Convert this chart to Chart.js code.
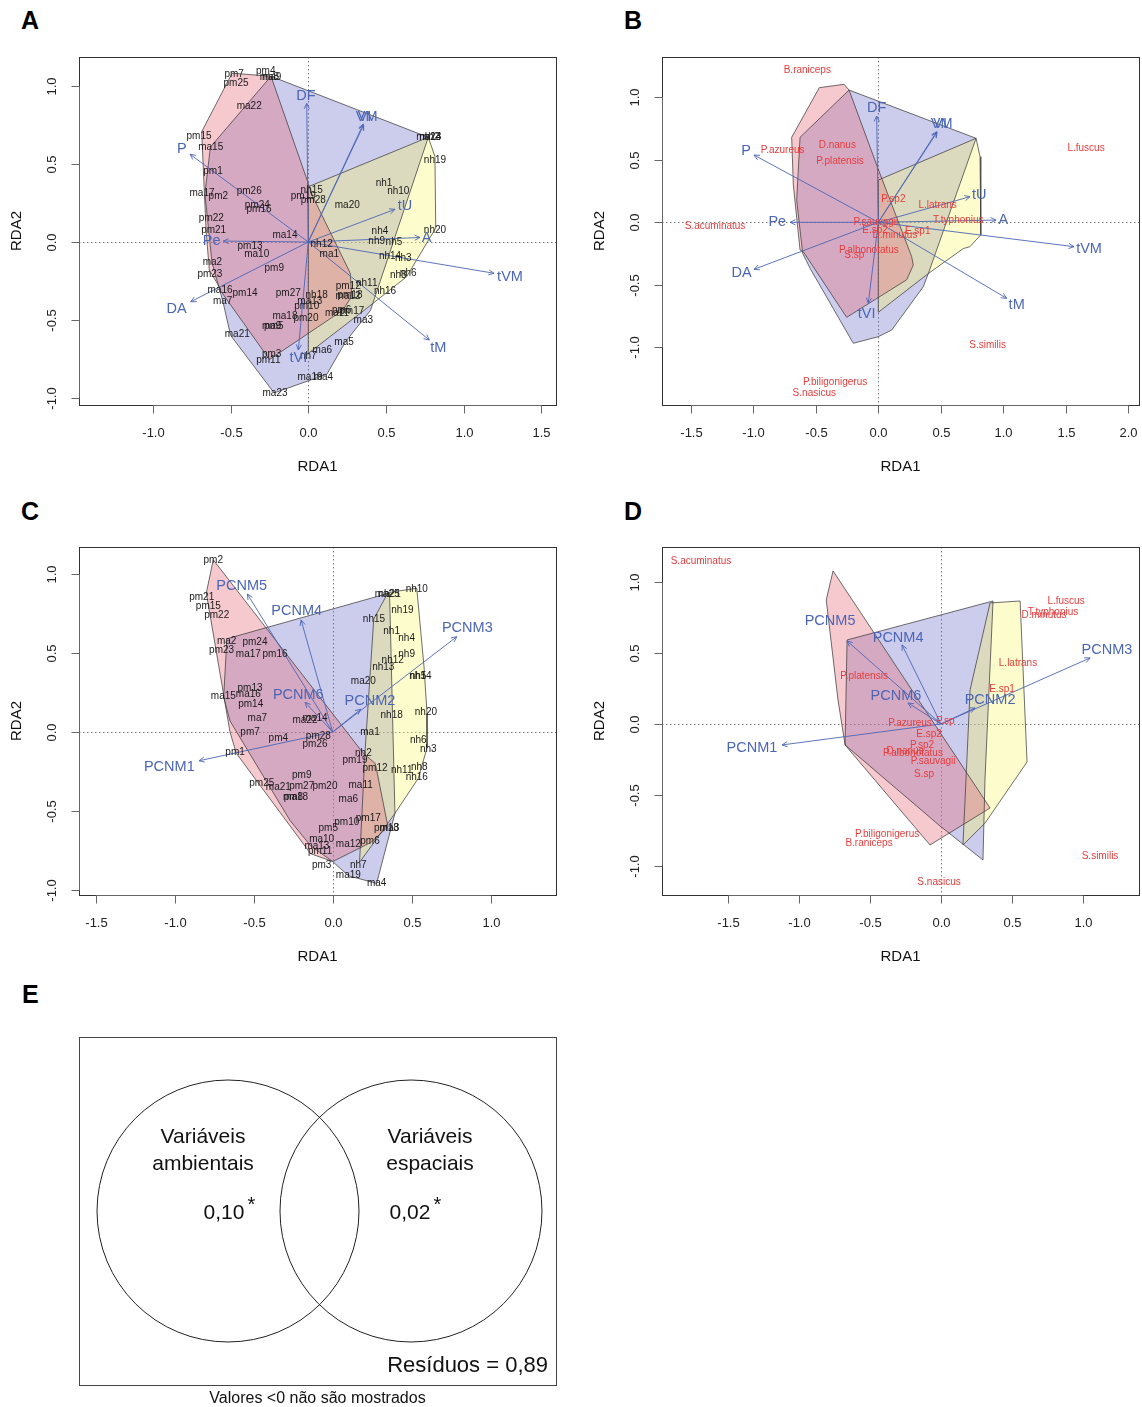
<!DOCTYPE html>
<html><head><meta charset="utf-8">
<script src="https://cdn.jsdelivr.net/npm/chart.js@4.4.0/dist/chart.umd.min.js"></script>
<style>
body{margin:0;background:#fff;width:1142px;height:1407px;position:relative;overflow:hidden;font-family:"Liberation Sans",Arial,sans-serif}
canvas{position:absolute}
.lt{position:absolute;font:bold 25px "Liberation Sans",Arial,sans-serif;line-height:25px;color:#000}
</style></head><body>
<div class="lt" style="left:21px;top:8px">A</div>
<div class="lt" style="left:624px;top:8px">B</div>
<div class="lt" style="left:21px;top:499px">C</div>
<div class="lt" style="left:624px;top:499px">D</div>
<div class="lt" style="left:22px;top:982px">E</div>
<script>
// ---------------- DATA ----------------
// Panel A : sites (environmental RDA)
const sitesA = [
['pm7',-0.477,1.08],['pm4',-0.274,1.10],['ma8',-0.25,1.062],['ma9',-0.236,1.062],['pm25',-0.465,1.02],
['ma22',-0.38,0.874],['pm15',-0.703,0.681],['ma15',-0.628,0.606],['pm1',-0.613,0.452],['ma17',-0.684,0.313],
['pm2',-0.579,0.291],['pm26',-0.38,0.326],['pm24',-0.328,0.238],['pm16',-0.317,0.21],['pm22',-0.624,0.152],
['pm21',-0.609,0.077],['ma14',-0.15,0.045],['pm13',-0.375,-0.03],['ma10',-0.332,-0.077],['ma2',-0.617,-0.127],
['pm23',-0.633,-0.206],['pm9',-0.219,-0.169],['ma16',-0.568,-0.308],['pm14',-0.407,-0.33],['ma7',-0.551,-0.379],
['ma21',-0.457,-0.591],['pm5',-0.222,-0.54],['ma9',-0.236,-0.54],['pm3',-0.236,-0.72],['pm11',-0.257,-0.758],
['ma23',-0.214,-0.972],['pm27',-0.129,-0.33],['nh18',0.054,-0.34],['ma13',0.01,-0.384],['pm10',-0.01,-0.416],
['ma18',-0.15,-0.476],['pm20',-0.015,-0.49],['ma1',0.135,-0.077],['nh12',0.086,-0.013],['pm12',0.257,-0.287],
['nh11',0.376,-0.265],['pm18',0.268,-0.345],['ma12',0.256,-0.35],['pm6',0.215,-0.437],['ma11',0.185,-0.456],
['pm17',0.28,-0.448],['ma3',0.354,-0.506],['ma5',0.23,-0.647],['ma6',0.09,-0.694],['nh7',0.0,-0.733],
['ma19',0.011,-0.872],['ma4',0.097,-0.872],['nh16',0.494,-0.315],['nh8',0.579,-0.212],['nh6',0.643,-0.201],
['nh14',0.526,-0.09],['nh3',0.611,-0.105],['nh9',0.44,0.008],['nh5',0.551,-0.004],['nh4',0.461,0.071],
['nh20',0.815,0.077],['ma20',0.251,0.238],['nh1',0.487,0.377],['nh10',0.579,0.323],['nh15',0.022,0.334],
['pm19',-0.032,0.296],['pm28',0.032,0.27],['nh19',0.815,0.527],['ma24',0.775,0.673],['nh2',0.79,0.673],['nh13',0.785,0.673]
];
const envNames = ['DF','VM','VI','P','Pe','DA','tVI','tM','tVM','A','tU'];
const envTipsA = [[-0.01,0.891],[0.354,0.758],[0.356,0.752],[-0.761,0.564],[-0.547,0.006],[-0.757,-0.384],[-0.064,-0.694],[0.779,-0.63],[1.195,-0.201],[0.719,0.029],[0.558,0.21]];
const envLabA  = [[-0.015,0.938],[0.376,0.805],[0.362,0.805],[-0.813,0.598],[-0.622,0.006],[-0.847,-0.433],[-0.064,-0.747],[0.837,-0.683],[1.298,-0.223],[0.762,0.028],[0.622,0.231]];
const hullPmA = [[-0.49,1.085],[-0.24,1.065],[0.03,0.29],[0.27,-0.2],[0.28,-0.35],[0.22,-0.44],[-0.25,-0.755],[-0.56,-0.32],[-0.58,-0.276],[-0.637,-0.18],[-0.658,0.077],[-0.686,0.709]];
const hullMaA = [[-0.24,1.065],[0.772,0.673],[0.40,-0.44],[0.24,-0.64],[0.12,-0.85],[-0.22,-0.97],[-0.5,-0.6],[-0.55,-0.38],[-0.57,-0.31],[-0.62,-0.13],[-0.665,0.31],[-0.63,0.61]];
const hullNhA = [[0.0,0.355],[0.772,0.673],[0.815,0.55],[0.82,0.09],[0.633,-0.223],[0.376,-0.426],[0.0,-0.716]];
const xTicksA = [-1.0,-0.5,0.0,0.5,1.0,1.5];
const yTicksA = [-1.0,-0.5,0.0,0.5,1.0];

// Panel B : species (environmental RDA)
const speciesB = [
['B.raniceps',-0.568,1.218],['P.azureus',-0.765,0.578],['D.nanus',-0.328,0.618],['P.platensis',-0.306,0.49],
['S.acuminatus',-1.306,-0.03],['P.sauvagii',-0.02,0.003],['P.sp2',0.12,0.186],['L.latrans',0.475,0.133],
['T.typhonius',0.64,0.013],['E.sp1',0.315,-0.075],['D.minutus',0.133,-0.1],['E.sp2',-0.026,-0.062],
['P.albonotatus',-0.075,-0.222],['S.sp',-0.192,-0.262],['L.fuscus',1.662,0.592],['S.similis',0.875,-0.982],
['P.biligonigerus',-0.346,-1.283],['S.nasicus',-0.512,-1.368]
];
const envTipsB = [[-0.013,0.85],[0.467,0.725],[0.47,0.72],[-0.994,0.538],[-0.706,0.0],[-0.994,-0.376],[-0.08,-0.648],[1.027,-0.608],[1.566,-0.195],[0.942,0.018],[0.734,0.205]];
const envLabB  = [[-0.013,0.912],[0.507,0.786],[0.495,0.786],[-1.058,0.573],[-0.808,0.0],[-1.093,-0.408],[-0.093,-0.734],[1.107,-0.662],[1.686,-0.214],[1.0,0.018],[0.808,0.218]];
const hullPmB = [[-0.472,1.077],[-0.274,1.104],[-0.234,1.058],[-0.008,0.445],[0.267,-0.275],[0.28,-0.342],[0.227,-0.46],[-0.253,-0.76],[-0.6,-0.235],[-0.626,-0.222],[-0.68,0.3],[-0.693,0.68]];
const hullMaB = [[-0.234,1.058],[0.782,0.672],[0.40,-0.41],[0.36,-0.515],[0.107,-0.862],[0.0,-0.915],[-0.2,-0.968],[-0.546,-0.368],[-0.605,-0.248],[-0.653,0.178],[-0.626,0.68]];
const hullNhB = [[0.0,0.338],[0.782,0.672],[0.814,0.525],[0.82,-0.1],[0.733,-0.195],[0.68,-0.21],[0.40,-0.41],[0.0,-0.72]];
const xTicksB = [-1.5,-1.0,-0.5,0.0,0.5,1.0,1.5,2.0];
const yTicksB = [-1.0,-0.5,0.0,0.5,1.0];

// Panel C : sites (spatial RDA)
const sitesC = [
['pm2',-0.756,1.089],['pm21',-0.829,0.853],['pm15',-0.787,0.793],['pm22',-0.734,0.738],['ma2',-0.671,0.576],
['pm23',-0.703,0.519],['pm24',-0.492,0.565],['ma17',-0.534,0.492],['pm16',-0.365,0.494],['pm13',-0.523,0.28],
['ma16',-0.534,0.24],['ma15',-0.692,0.224],['pm14',-0.519,0.175],['ma7',-0.477,0.087],['pm7',-0.523,0.0],
['pm4',-0.344,-0.04],['pm1',-0.618,-0.125],['pm25',-0.449,-0.325],['pm26',-0.112,-0.076],['pm28',-0.091,-0.03],
['ma22',-0.175,0.076],['ma14',-0.112,0.087],['ma1',0.236,0.0],['ma20',0.194,0.323],['nh18',0.373,0.108],
['nh20',0.59,0.128],['nh13',0.32,0.407],['nh12',0.38,0.451],['nh9',0.468,0.494],['nh1',0.373,0.635],
['nh4',0.468,0.593],['nh15',0.261,0.715],['nh19',0.441,0.772],['nh10',0.532,0.905],['ma25',0.345,0.873],
['nh21',0.36,0.873],['nh5',0.54,0.354],['nh14',0.555,0.354],['nh6',0.542,-0.051],['nh3',0.605,-0.11],
['nh2',0.194,-0.135],['pm19',0.141,-0.177],['pm12',0.268,-0.23],['nh11',0.437,-0.24],['nh8',0.548,-0.226],
['nh16',0.532,-0.287],['pm9',-0.196,-0.272],['ma21',-0.344,-0.352],['pm27',-0.196,-0.346],['pm20',-0.049,-0.346],
['pm8',-0.249,-0.41],['ma18',-0.235,-0.41],['ma11',0.177,-0.34],['ma6',0.099,-0.424],['pm17',0.225,-0.546],
['pm10',0.089,-0.568],['pm5',-0.028,-0.61],['pm18',0.34,-0.606],['ma3',0.36,-0.606],['pm6',0.236,-0.694],
['ma12',0.099,-0.711],['ma10',-0.07,-0.677],['ma13',-0.1,-0.72],['pm11',-0.08,-0.753],['pm3',-0.07,-0.846],
['nh7',0.162,-0.846],['ma19',0.099,-0.909],['ma4',0.278,-0.958]
];
const pcnmNames = ['PCNM5','PCNM4','PCNM3','PCNM2','PCNM6','PCNM1'];
const pcnmTipsC = [[-0.54,0.873],[-0.2,0.709],[0.785,0.603],[0.177,0.144],[-0.175,0.188],[-0.846,-0.182]];
const pcnmLabC  = [[-0.576,0.924],[-0.228,0.766],[0.852,0.66],[0.236,0.196],[-0.218,0.234],[-1.034,-0.223]];
const hullPmC = [[-0.756,1.09],[0.19,-0.13],[0.27,-0.2],[0.35,-0.6],[0.24,-0.7],[0.0,-0.82],[-0.14,-0.77],[-0.61,-0.135],[-0.65,0.0],[-0.8,0.88]];
const hullMaC = [[0.36,0.88],[0.394,-0.515],[0.278,-0.958],[0.1,-0.91],[0.0,-0.82],[-0.14,-0.72],[-0.27,-0.56],[-0.65,0.07],[-0.69,0.22],[-0.67,0.59]];
const hullNhC = [[0.35,0.882],[0.532,0.91],[0.578,0.413],[0.597,0.118],[0.597,-0.1],[0.542,-0.293],[0.394,-0.515],[0.17,-0.825],[0.204,-0.135],[0.26,0.715]];
const xTicksC = [-1.5,-1.0,-0.5,0.0,0.5,1.0];
const yTicksC = [-1.0,-0.5,0.0,0.5,1.0];

// Panel D : species (spatial RDA)
const speciesD = [
['S.acuminatus',-1.694,1.15],['L.fuscus',0.882,0.868],['T.typhonius',0.79,0.79],['D.minutus',0.727,0.769],
['L.latrans',0.543,0.43],['P.platensis',-0.543,0.339],['E.sp1',0.43,0.247],['P.azureus',-0.219,0.007],
['P.sp',0.03,0.02],['E.sp2',-0.085,-0.071],['P.sp2',-0.134,-0.148],['D.nanus',-0.254,-0.191],
['P.albonotatus',-0.198,-0.205],['P.sauvagii',-0.056,-0.261],['S.sp',-0.12,-0.353],['P.biligonigerus',-0.381,-0.776],
['B.raniceps',-0.508,-0.84],['S.nasicus',-0.014,-1.115],['S.similis',1.122,-0.932]
];
const pcnmTipsD = [[-0.663,0.586],[-0.275,0.558],[1.052,0.466],[0.24,0.113],[-0.233,0.148],[-1.122,-0.148]];
const pcnmLabD  = [[-0.783,0.727],[-0.303,0.607],[1.171,0.522],[0.346,0.169],[-0.318,0.198],[-1.334,-0.169]];
const hullPmD = [[-0.762,1.08],[-0.81,0.875],[-0.727,0.169],[-0.677,-0.148],[-0.078,-0.854],[0.346,-0.593]];
const hullMaD = [[-0.663,0.593],[0.367,0.868],[0.31,-0.395],[0.296,-0.96],[-0.007,-0.72],[-0.677,-0.148]];
const hullNhD = [[0.346,0.854],[0.558,0.868],[0.607,-0.268],[0.31,-0.7],[0.155,-0.854],[0.205,0.24]];
const xTicksD = [-1.5,-1.0,-0.5,0.0,0.5,1.0];
const yTicksD = [-1.0,-0.5,0.0,0.5,1.0];

// Panel E : variation partitioning
const vennNames = [['Variáveis','ambientais'],['Variáveis','espaciais']];
const vennValues = [0.10, 0.02];
const vennSignif = ['*','*'];
const residualValue = 0.89;

// ---------------- RENDERING ----------------
const FONT = '"Liberation Sans", Arial, Helvetica, sans-serif';
const COL_PM = 'rgba(232,112,128,0.38)';
const COL_MA = 'rgba(110,110,200,0.35)';
const COL_NH = 'rgba(250,245,110,0.35)';
const BLUE = '#4b66b5';
const RED = '#e63c3c';

function P(chart,p){return [chart.scales.x.getPixelForValue(p[0]), chart.scales.y.getPixelForValue(p[1])];}
function fmt(v){return v.toFixed(1);}

function buildPanel(o){
  const cv=document.createElement('canvas');
  const [rx,ry,rw,rh]=o.rect;
  cv.width=rw; cv.height=rh;
  cv.style.left=rx+'px'; cv.style.top=ry+'px'; cv.style.width=rw+'px'; cv.style.height=rh+'px';
  document.body.appendChild(cv);
  const b=o.box;
  const pad={left:b[0]-rx, top:b[1]-ry, right:rx+rw-b[2], bottom:ry+rh-b[3]};
  const datasets=[];
  o.hulls.forEach(h=>{
    datasets.push({data:h.pts.concat([h.pts[0]]).map(p=>({x:p[0],y:p[1]})),showLine:true,
      borderColor:'rgba(55,55,55,0.9)',borderWidth:0.8,pointRadius:0,fill:false,order:3});
  });
  o.arrows.tips.forEach(t=>{
    datasets.push({data:[{x:0,y:0},{x:t[0],y:t[1]}],showLine:true,borderColor:'rgba(75,102,181,0.9)',
      borderWidth:1,pointRadius:0,fill:false,order:2});
  });
  datasets.push({data:o.labels.items.map(s=>({x:s[1],y:s[2]})),pointRadius:0,order:1});

  const plugin={
    id:'rdaDecor',
    beforeDatasetsDraw(chart){
      const ctx=chart.ctx,a=chart.chartArea;
      ctx.save();
      ctx.setLineDash([1.5,2.5]); ctx.strokeStyle='#777'; ctx.lineWidth=1;
      const z=P(chart,[0,0]);
      ctx.beginPath();
      ctx.moveTo(a.left,Math.round(z[1])+0.5); ctx.lineTo(a.right,Math.round(z[1])+0.5);
      ctx.moveTo(Math.round(z[0])+0.5,a.top); ctx.lineTo(Math.round(z[0])+0.5,a.bottom);
      ctx.stroke(); ctx.setLineDash([]);
      o.hulls.forEach(h=>{
        ctx.beginPath();
        h.pts.forEach((p,i)=>{const q=P(chart,p); if(i===0)ctx.moveTo(q[0],q[1]); else ctx.lineTo(q[0],q[1]);});
        ctx.closePath(); ctx.fillStyle=h.color; ctx.fill();
      });
      ctx.restore();
    },
    afterDatasetsDraw(chart){
      const ctx=chart.ctx;
      ctx.save();
      ctx.font=o.labels.size+'px '+FONT; ctx.fillStyle=o.labels.color;
      ctx.textAlign='center'; ctx.textBaseline='middle';
      o.labels.items.forEach(s=>{const q=P(chart,[s[1],s[2]]); ctx.fillText(s[0],q[0],q[1]);});
      ctx.strokeStyle='rgba(75,102,181,0.9)'; ctx.lineWidth=1;
      const z=P(chart,[0,0]);
      o.arrows.tips.forEach(t=>{
        const q=P(chart,t); const ang=Math.atan2(q[1]-z[1],q[0]-z[0]); const L=6,w=Math.PI/7;
        ctx.beginPath();
        ctx.moveTo(q[0]-L*Math.cos(ang-w),q[1]-L*Math.sin(ang-w)); ctx.lineTo(q[0],q[1]);
        ctx.lineTo(q[0]-L*Math.cos(ang+w),q[1]-L*Math.sin(ang+w)); ctx.stroke();
      });
      ctx.font='14.5px '+FONT; ctx.fillStyle=BLUE;
      o.arrows.labs.forEach((l,i)=>{const q=P(chart,l); ctx.fillText(o.arrows.names[i],q[0],q[1]);});
      ctx.restore();
    },
    afterDraw(chart){
      const ctx=chart.ctx,a=chart.chartArea,xs=chart.scales.x,ys=chart.scales.y;
      ctx.save();
      ctx.strokeStyle='#333'; ctx.lineWidth=1;
      ctx.strokeRect(Math.round(a.left)+0.5,Math.round(a.top)+0.5,Math.round(a.right-a.left),Math.round(a.bottom-a.top));
      ctx.strokeStyle='#666';
      ctx.fillStyle='#222'; ctx.font='13px '+FONT; ctx.textAlign='center'; ctx.textBaseline='middle';
      const yb=Math.round(a.bottom)+0.5;
      const x1=xs.getPixelForValue(o.xTicks[0]), x2=xs.getPixelForValue(o.xTicks[o.xTicks.length-1]);
      ctx.beginPath(); ctx.moveTo(x1,yb); ctx.lineTo(x2,yb); ctx.stroke();
      o.xTicks.forEach(v=>{
        const x=Math.round(xs.getPixelForValue(v))+0.5;
        ctx.beginPath(); ctx.moveTo(x,yb); ctx.lineTo(x,yb+8); ctx.stroke();
        ctx.fillText(fmt(v),x,a.bottom+28);
      });
      const xl=Math.round(a.left)+0.5;
      const y1=ys.getPixelForValue(o.yTicks[0]), y2=ys.getPixelForValue(o.yTicks[o.yTicks.length-1]);
      ctx.beginPath(); ctx.moveTo(xl,y1); ctx.lineTo(xl,y2); ctx.stroke();
      o.yTicks.forEach(v=>{
        const y=Math.round(ys.getPixelForValue(v))+0.5;
        ctx.beginPath(); ctx.moveTo(xl,y); ctx.lineTo(xl-8,y); ctx.stroke();
        ctx.save(); ctx.translate(a.left-27,y); ctx.rotate(-Math.PI/2); ctx.fillText(fmt(v),0,0); ctx.restore();
      });
      ctx.font='15px '+FONT; ctx.fillStyle='#111';
      ctx.fillText('RDA1',(a.left+a.right)/2,a.bottom+62);
      ctx.save(); ctx.translate(a.left-62,(a.top+a.bottom)/2); ctx.rotate(-Math.PI/2); ctx.fillText('RDA2',0,0); ctx.restore();
      ctx.restore();
    }
  };
  new Chart(cv,{type:'scatter',data:{datasets},plugins:[plugin],
    options:{responsive:false,animation:false,events:[],layout:{padding:pad,autoPadding:false},
      plugins:{legend:{display:false},tooltip:{enabled:false}},
      scales:{x:{type:'linear',min:o.xr[0],max:o.xr[1],display:false},y:{type:'linear',min:o.yr[0],max:o.yr[1],display:false}}}});
}

buildPanel({rect:[0,0,571,490],box:[79,57,556,405],xr:[-1.4755,1.594],yr:[-1.0476,1.189],
  xTicks:xTicksA,yTicks:yTicksA,
  hulls:[{pts:hullMaA,color:COL_MA},{pts:hullNhA,color:COL_NH},{pts:hullPmA,color:COL_PM}],
  arrows:{names:envNames,tips:envTipsA,labs:envLabA},
  labels:{items:sitesA,size:10,color:'#1a1a1a'}});
buildPanel({rect:[571,0,571,490],box:[662,57,1139,405],xr:[-1.7304,2.0856],yr:[-1.4616,1.3224],
  xTicks:xTicksB,yTicks:yTicksB,
  hulls:[{pts:hullMaB,color:COL_MA},{pts:hullNhB,color:COL_NH},{pts:hullPmB,color:COL_PM}],
  arrows:{names:envNames,tips:envTipsB,labs:envLabB},
  labels:{items:speciesB,size:10,color:RED}});
buildPanel({rect:[0,490,571,490],box:[79,547,556,895],xr:[-1.6057,1.4133],yr:[-1.0316,1.1709],
  xTicks:xTicksC,yTicks:yTicksC,
  hulls:[{pts:hullMaC,color:COL_MA},{pts:hullNhC,color:COL_NH},{pts:hullPmC,color:COL_PM}],
  arrows:{names:pcnmNames,tips:pcnmTipsC,labs:pcnmLabC},
  labels:{items:sitesC,size:10,color:'#1a1a1a'}});
buildPanel({rect:[571,490,571,490],box:[662,547,1139,895],xr:[-1.969,1.397],yr:[-1.207,1.249],
  xTicks:xTicksD,yTicks:yTicksD,
  hulls:[{pts:hullMaD,color:COL_MA},{pts:hullNhD,color:COL_NH},{pts:hullPmD,color:COL_PM}],
  arrows:{names:pcnmNames,tips:pcnmTipsD,labs:pcnmLabD},
  labels:{items:speciesD,size:10,color:RED}});

// Panel E: Venn diagram
(function(){
  const cv=document.createElement('canvas');
  cv.width=571; cv.height=427; cv.style.left='0px'; cv.style.top='980px'; cv.style.width='571px'; cv.style.height='427px';
  document.body.appendChild(cv);
  const box=[79,1037,556,1385];
  const pad={left:box[0],top:box[1]-980,right:571-box[2],bottom:980+427-box[3]};
  const centers=[[0.3124,0.5],[0.696,0.5]];
  const rad=131;
  const plugin={id:'venn',afterDraw(chart){
    const ctx=chart.ctx,a=chart.chartArea,xs=chart.scales.x,ys=chart.scales.y;
    ctx.save();
    ctx.strokeStyle='#444'; ctx.lineWidth=1;
    ctx.strokeRect(Math.round(a.left)+0.5,Math.round(a.top)+0.5,Math.round(a.right-a.left),Math.round(a.bottom-a.top));
    ctx.fillStyle='#111'; ctx.textAlign='center'; ctx.textBaseline='middle';
    centers.forEach((c,i)=>{
      const cx=xs.getPixelForValue(c[0]), cy=ys.getPixelForValue(c[1]);
      const off = i===0 ? -25 : 19;
      ctx.font='21px '+FONT;
      ctx.fillText(vennNames[i][0],cx+off,cy-74);
      ctx.fillText(vennNames[i][1],cx+off,cy-47);
      const t=vennValues[i].toFixed(2).replace('.',',');
      ctx.fillText(t,cx+(i===0?-4:-1),cy+2);
      const w=ctx.measureText(t).width;
      ctx.font='20px '+FONT;
      ctx.fillText(vennSignif[i],cx+(i===0?-4:-1)+w/2+7,cy-6);
    });
    ctx.font='22px '+FONT; ctx.textAlign='right';
    ctx.fillText('Resíduos = '+residualValue.toFixed(2).replace('.',','),a.right-8,a.bottom-19);
    ctx.textAlign='center'; ctx.font='16px '+FONT;
    ctx.fillText('Valores <0 não são mostrados',(a.left+a.right)/2,a.bottom+14);
    ctx.restore();
  }};
  new Chart(cv,{type:'bubble',data:{datasets:[{data:centers.map(c=>({x:c[0],y:c[1],r:rad})),
      backgroundColor:'rgba(0,0,0,0)',borderColor:'#222',borderWidth:1,hoverRadius:0}]},plugins:[plugin],
    options:{responsive:false,animation:false,events:[],layout:{padding:pad,autoPadding:false},clip:false,
      plugins:{legend:{display:false},tooltip:{enabled:false}},
      scales:{x:{type:'linear',min:0,max:1,display:false},y:{type:'linear',min:0,max:1,display:false}}}});
})();
</script>
</body></html>
